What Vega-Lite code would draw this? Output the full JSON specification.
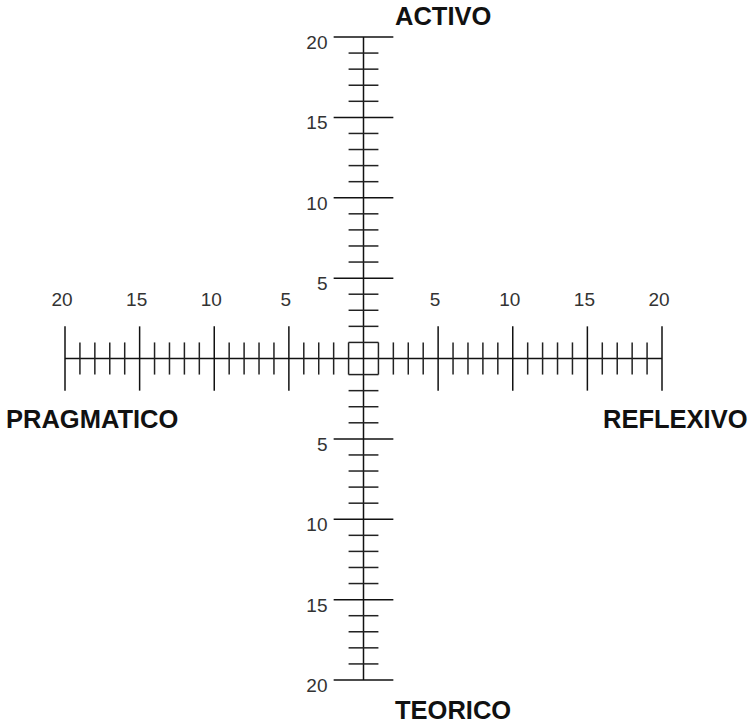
{
  "$schema": "https://vega.github.io/schema/vega-lite/v6.json",
  "width": 597,
  "height": 643,
  "autosize": {"type": "none"},
  "padding": {"left": 65, "top": 37, "right": 90, "bottom": 44},
  "background": "white",
  "config": {"view": {"stroke": null}, "text": {"font": "Liberation Sans"}},
  "datasets": {
    "major": [{"v": -20}, {"v": -15}, {"v": -10}, {"v": -5}, {"v": 5}, {"v": 10}, {"v": 15}, {"v": 20}],
    "minor": [{"v": -19}, {"v": -18}, {"v": -17}, {"v": -16}, {"v": -14}, {"v": -13}, {"v": -12}, {"v": -11}, {"v": -9}, {"v": -8}, {"v": -7}, {"v": -6}, {"v": -4}, {"v": -3}, {"v": -2}, {"v": -1}, {"v": 1}, {"v": 2}, {"v": 3}, {"v": 4}, {"v": 6}, {"v": 7}, {"v": 8}, {"v": 9}, {"v": 11}, {"v": 12}, {"v": 13}, {"v": 14}, {"v": 16}, {"v": 17}, {"v": 18}, {"v": 19}],
    "labels": [{"v": -20, "t": "20"}, {"v": -15, "t": "15"}, {"v": -10, "t": "10"}, {"v": -5, "t": "5"}, {"v": 5, "t": "5"}, {"v": 10, "t": "10"}, {"v": 15, "t": "15"}, {"v": 20, "t": "20"}],
    "one": [{}]
  },
  "layer": [
    {
      "data": {"name": "one"},
      "mark": {"type": "rule", "color": "#111", "strokeWidth": 1.5},
      "encoding": {
        "x": {"datum": -20, "type": "quantitative", "scale": {"domain": [-20, 20], "nice": false}, "axis": null},
        "x2": {"datum": 20},
        "y": {"datum": 0, "type": "quantitative", "scale": {"domain": [-20, 20], "nice": false}, "axis": null}
      }
    },
    {
      "data": {"name": "one"},
      "mark": {"type": "rule", "color": "#111", "strokeWidth": 1.5},
      "encoding": {
        "y": {"datum": -20, "type": "quantitative", "scale": {"domain": [-20, 20], "nice": false}, "axis": null},
        "y2": {"datum": 20},
        "x": {"datum": 0, "type": "quantitative", "scale": {"domain": [-20, 20], "nice": false}, "axis": null}
      }
    },
    {
      "data": {"name": "major"},
      "mark": {"type": "rule", "color": "#111", "strokeWidth": 1.5},
      "encoding": {
        "x": {"field": "v", "type": "quantitative", "scale": {"domain": [-20, 20], "nice": false}, "axis": null},
        "y": {"datum": -2, "type": "quantitative", "scale": {"domain": [-20, 20], "nice": false}, "axis": null},
        "y2": {"datum": 2}
      }
    },
    {
      "data": {"name": "minor"},
      "mark": {"type": "rule", "color": "#222", "strokeWidth": 1.5},
      "encoding": {
        "x": {"field": "v", "type": "quantitative", "scale": {"domain": [-20, 20], "nice": false}, "axis": null},
        "y": {"datum": -1, "type": "quantitative", "scale": {"domain": [-20, 20], "nice": false}, "axis": null},
        "y2": {"datum": 1}
      }
    },
    {
      "data": {"name": "major"},
      "mark": {"type": "rule", "color": "#111", "strokeWidth": 1.5},
      "encoding": {
        "y": {"field": "v", "type": "quantitative", "scale": {"domain": [-20, 20], "nice": false}, "axis": null},
        "x": {"datum": -2, "type": "quantitative", "scale": {"domain": [-20, 20], "nice": false}, "axis": null},
        "x2": {"datum": 2}
      }
    },
    {
      "data": {"name": "minor"},
      "mark": {"type": "rule", "color": "#222", "strokeWidth": 1.5},
      "encoding": {
        "y": {"field": "v", "type": "quantitative", "scale": {"domain": [-20, 20], "nice": false}, "axis": null},
        "x": {"datum": -1, "type": "quantitative", "scale": {"domain": [-20, 20], "nice": false}, "axis": null},
        "x2": {"datum": 1}
      }
    },
    {
      "data": {"name": "labels"},
      "mark": {"type": "text", "fontSize": 19, "color": "#333", "align": "center", "baseline": "alphabetic", "dx": -3, "dy": -52.5},
      "encoding": {
        "x": {"field": "v", "type": "quantitative", "scale": {"domain": [-20, 20], "nice": false}, "axis": null},
        "y": {"datum": 0, "type": "quantitative", "scale": {"domain": [-20, 20], "nice": false}, "axis": null},
        "text": {"field": "t"}
      }
    },
    {
      "data": {"name": "labels"},
      "mark": {"type": "text", "fontSize": 19, "color": "#333", "align": "right", "baseline": "alphabetic", "dx": -36, "dy": 12},
      "encoding": {
        "y": {"field": "v", "type": "quantitative", "scale": {"domain": [-20, 20], "nice": false}, "axis": null},
        "x": {"datum": 0, "type": "quantitative", "scale": {"domain": [-20, 20], "nice": false}, "axis": null},
        "text": {"field": "t"}
      }
    },
    {
      "data": {"values": [{"t": "ACTIVO", "x": 0, "y": 20}]},
      "mark": {"type": "text", "fontSize": 25.5, "fontWeight": "bold", "color": "#111", "align": "left", "baseline": "alphabetic", "dx": 31.5, "dy": -12},
      "encoding": {
        "x": {"field": "x", "type": "quantitative", "scale": {"domain": [-20, 20], "nice": false}, "axis": null},
        "y": {"field": "y", "type": "quantitative", "scale": {"domain": [-20, 20], "nice": false}, "axis": null},
        "text": {"field": "t"}
      }
    },
    {
      "data": {"values": [{"t": "TEORICO", "x": 0, "y": -20}]},
      "mark": {"type": "text", "fontSize": 25.5, "fontWeight": "bold", "color": "#111", "align": "left", "baseline": "alphabetic", "dx": 31.5, "dy": 39},
      "encoding": {
        "x": {"field": "x", "type": "quantitative", "scale": {"domain": [-20, 20], "nice": false}, "axis": null},
        "y": {"field": "y", "type": "quantitative", "scale": {"domain": [-20, 20], "nice": false}, "axis": null},
        "text": {"field": "t"}
      }
    },
    {
      "data": {"values": [{"t": "PRAGMATICO", "x": -20, "y": 0}, {"t": "REFLEXIVO", "x": 20, "y": 0}]},
      "mark": {"type": "text", "fontSize": 25.5, "fontWeight": "bold", "color": "#111", "align": "left", "baseline": "alphabetic", "dx": -59, "dy": 69.5},
      "encoding": {
        "x": {"field": "x", "type": "quantitative", "scale": {"domain": [-20, 20], "nice": false}, "axis": null},
        "y": {"field": "y", "type": "quantitative", "scale": {"domain": [-20, 20], "nice": false}, "axis": null},
        "text": {"field": "t"}
      }
    }
  ]
}
